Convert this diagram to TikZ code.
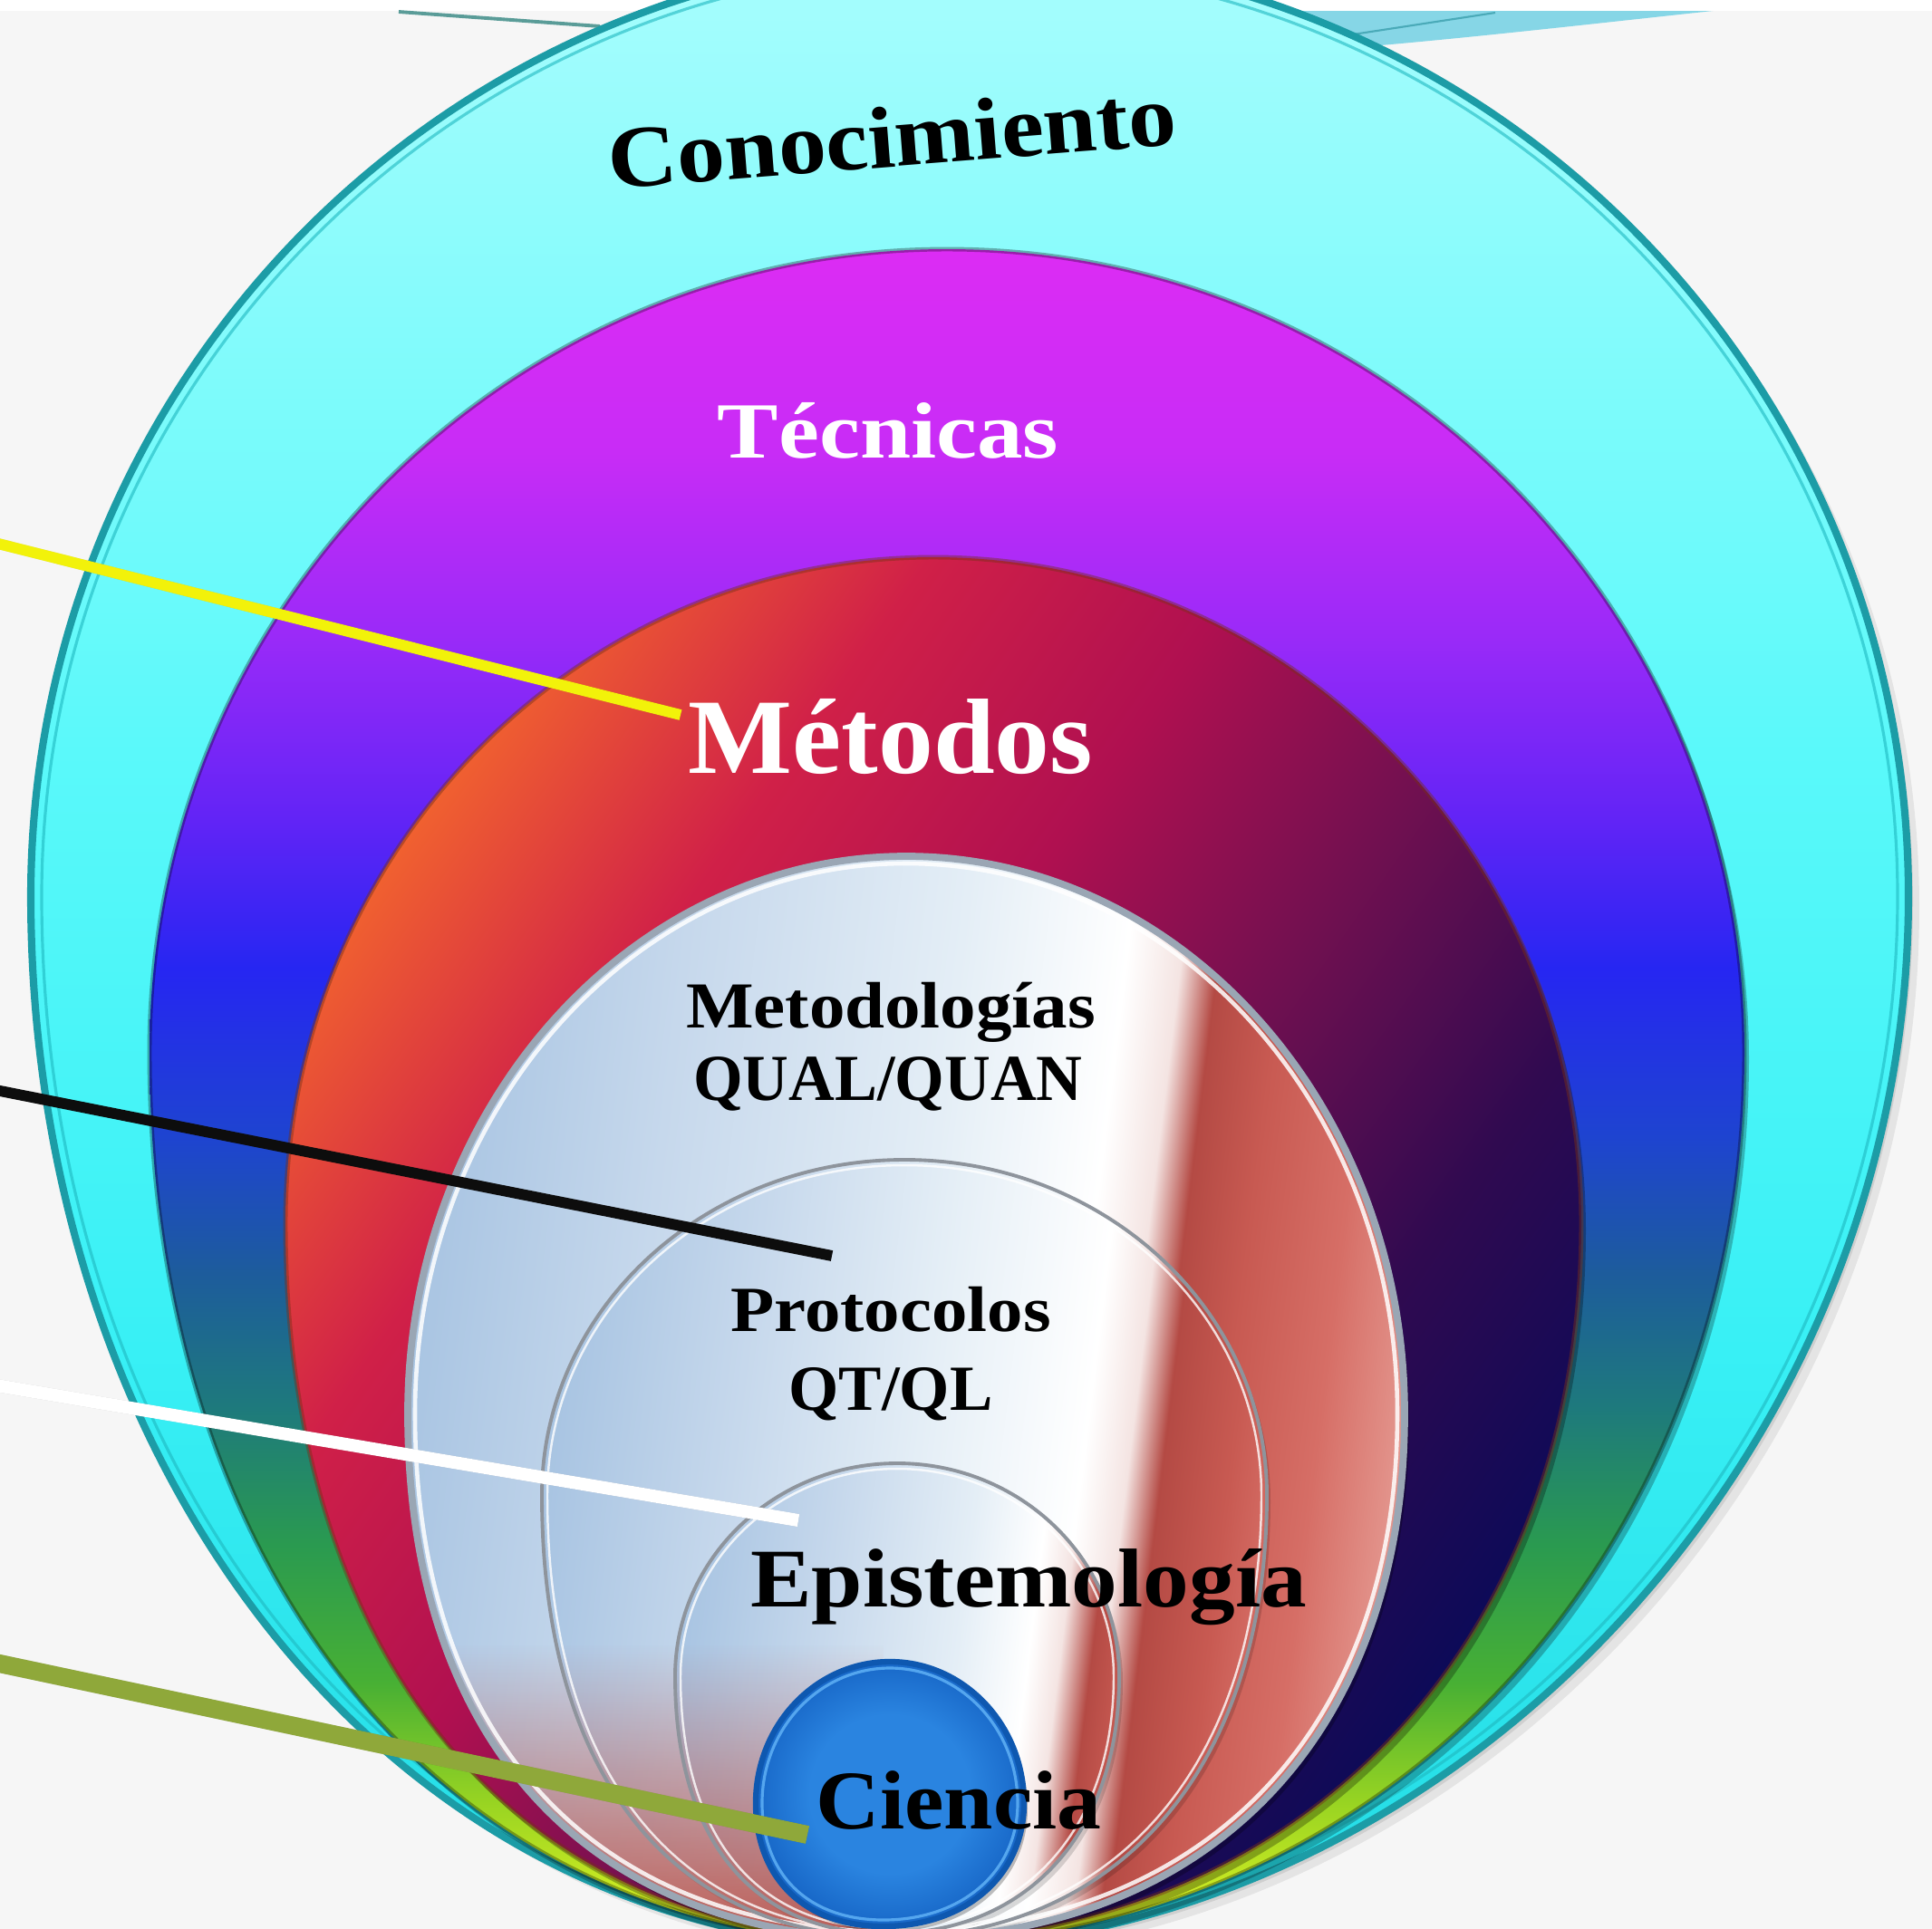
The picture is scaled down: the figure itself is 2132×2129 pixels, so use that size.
\documentclass[tikz,border=0pt]{standalone}
\usepackage{fontspec}
\setmainfont{Liberation Serif}
\usetikzlibrary{fadings}
\definecolor{bgc}{HTML}{F6F6F6}
\definecolor{cy1}{HTML}{A8FDFD}
\definecolor{cy2}{HTML}{5AF9FA}
\definecolor{cy3}{HTML}{38F0F5}
\definecolor{cy4}{HTML}{22DAE4}
\definecolor{cyrim}{HTML}{1C9CA6}
\definecolor{cyrim2}{HTML}{1FB8C0}
\definecolor{tc1}{HTML}{DC2CF4}
\definecolor{tc2}{HTML}{C82CF6}
\definecolor{tc3}{HTML}{9A2AF8}
\definecolor{tc4}{HTML}{6224F6}
\definecolor{tc5}{HTML}{2626F2}
\definecolor{tc6}{HTML}{1E44D0}
\definecolor{tc7}{HTML}{1D5C9C}
\definecolor{tc8}{HTML}{1E7A7C}
\definecolor{tc9}{HTML}{2A9A50}
\definecolor{tc10}{HTML}{48B034}
\definecolor{tc11}{HTML}{98D422}
\definecolor{tc12}{HTML}{D4EE22}
\definecolor{mt1}{HTML}{F06030}
\definecolor{mt2}{HTML}{D02048}
\definecolor{mt3}{HTML}{B01050}
\definecolor{mt4}{HTML}{701050}
\definecolor{mt5}{HTML}{300A50}
\definecolor{mt6}{HTML}{0C0A58}
\definecolor{mb1}{HTML}{A8C4E2}
\definecolor{mb2}{HTML}{C6D8EC}
\definecolor{mb3}{HTML}{E4EEF6}
\definecolor{mr0}{HTML}{F4E4E2}
\definecolor{mr1}{HTML}{B44A44}
\definecolor{mr2}{HTML}{C85A52}
\definecolor{mr3}{HTML}{D66E66}
\definecolor{mr4}{HTML}{E49890}
\definecolor{refl}{HTML}{B8483E}
\definecolor{cb1}{HTML}{2A84E0}
\definecolor{cb2}{HTML}{1868C8}
\definecolor{cbrim}{HTML}{0E58B0}
\definecolor{cbhi}{HTML}{6EC0FF}
\definecolor{silver}{HTML}{9AA6B4}
\definecolor{greyrim}{HTML}{8E949C}
\definecolor{topblue}{HTML}{86D6E6}
\definecolor{topline}{HTML}{4AAAB8}
\definecolor{tealline}{HTML}{5A9C98}
\definecolor{yel}{HTML}{F2F20A}
\definecolor{oliv}{HTML}{8FA83A}
\pgfdeclareverticalshading{cono}{100bp}{color(0bp)=(cy4); color(25bp)=(cy4); color(40bp)=(cy3); color(55bp)=(cy2); color(75bp)=(cy1); color(100bp)=(cy1)}
\pgfdeclareverticalshading{tecnicas}{100bp}{color(0bp)=(tc12); color(26bp)=(tc12); color(29.2bp)=(tc11); color(32.7bp)=(tc10); color(36.8bp)=(tc9); color(40.8bp)=(tc8); color(44.8bp)=(tc7); color(48.8bp)=(tc6); color(53.8bp)=(tc5); color(58.2bp)=(tc4); color(63.6bp)=(tc3); color(69bp)=(tc2); color(75bp)=(tc1); color(100bp)=(tc1)}
\pgfdeclarehorizontalshading{metodos}{100bp}{color(0bp)=(mt1); color(25bp)=(mt1); color(35bp)=(mt2); color(45bp)=(mt3); color(55bp)=(mt4); color(65bp)=(mt5); color(75bp)=(mt6); color(100bp)=(mt6)}
\pgfdeclarehorizontalshading{metodol}{100bp}{color(0bp)=(mb1); color(25bp)=(mb1); color(36.4bp)=(mb2); color(50bp)=(mb3); color(58.2bp)=(white); color(60.9bp)=(mr0); color(62.7bp)=(mr1); color(65.9bp)=(mr2); color(70.5bp)=(mr3); color(75bp)=(mr4); color(100bp)=(mr4)}
\pgfdeclarehorizontalshading{protoc}{100bp}{color(0bp)=(mb1); color(25bp)=(mb1); color(37.6bp)=(mb2); color(50.1bp)=(mb3); color(61.4bp)=(white); color(64.5bp)=(mr0); color(66.8bp)=(mr1); color(71.5bp)=(mr2); color(75bp)=(mr3); color(100bp)=(mr3)}
\pgfdeclarehorizontalshading{episte}{100bp}{color(0bp)=(mb1); color(25bp)=(mb1); color(40.8bp)=(mb2); color(56bp)=(mb3); color(64bp)=(white); color(67.5bp)=(mr0); color(71bp)=(mr1); color(75bp)=(mr2); color(100bp)=(mr2)}
\pgfdeclareradialshading{ciencia}{\pgfpoint{0bp}{0bp}}{color(0bp)=(cb1); color(15bp)=(cb1); color(25bp)=(cb2); color(50bp)=(cb2)}
\tikzfading[name=fadeup, top color=transparent!100, bottom color=transparent!0]
% egg-shaped outline: cx, cy (widest), rx, ry top, ry bottom, bottom fullness, bottom x
\newcommand\egg[7]{(#1-#3,#2) .. controls (#1-#3,#2-0.552*#4) and (#1-0.552*#3,#2-#4) .. (#1,#2-#4) .. controls (#1+0.552*#3,#2-#4) and (#1+#3,#2-0.552*#4) .. (#1+#3,#2) .. controls (#1+#3,#2+#6*#5) and (#7+#6*#3,#2+#5) .. (#7,#2+#5) .. controls (#7-#6*#3,#2+#5) and (#1-#3,#2+#6*#5) .. (#1-#3,#2) -- cycle}
\tikzset{
  lbl/.style={inner sep=0pt, anchor=base},
  dropshade/.style={fill=black, opacity=#1},
  leader/.style={line width=#1, line cap=butt},
}
\begin{document}
\begin{tikzpicture}[x=0.01cm,y=-0.01cm,line join=round]
\useasboundingbox (0,0) rectangle (2132,2129);
\clip (0,0) rectangle (2132,2129);
\fill[bgc] (0,12) rectangle (2132,2129);
\fill[white] (0,0) rectangle (2132,12);
% shapes peeking in at the top
\fill[topblue] (1380,12) -- (1890,12) .. controls (1760,26) and (1620,42) .. (1500,52) -- (1400,56) -- cycle;
\coordinate (trA) at (1480,40);
\coordinate (trB) at (1650,14);
\draw[topline, line width=0.6pt] (trA) -- (trB);
\coordinate (tlA) at (440,13);
\coordinate (tlB) at (662,29);
\draw[tealline, line width=1.1pt] (tlA) -- (tlB);
% Conocimiento
\fill[dropshade=.07, shift={(12,12)}] \egg{1070}{989}{1036}{1040}{1161}{0.55}{1005};
\fill[dropshade=.09, shift={(5,6)}] \egg{1070}{989}{1036}{1040}{1161}{0.55}{1005};
\shade[shading=cono] \egg{1070}{989}{1036}{1040}{1161}{0.55}{1005};
\draw[cyrim, line width=2.3pt] \egg{1070}{989}{1036}{1040}{1161}{0.55}{1005};
\draw[cyrim2, line width=0.9pt, opacity=.6] \egg{1070}{989}{1024}{1028}{1149}{0.55}{1005};
% Tecnicas
\fill[dropshade=.25, shift={(5,8)}] \egg{1045}{1161}{880}{886}{985}{0.58}{998};
\shade[shading=tecnicas] \egg{1045}{1161}{880}{886}{985}{0.58}{998};
\draw[black, opacity=.3, line width=1.4pt] \egg{1045}{1161}{880}{886}{985}{0.58}{998};
% Metodos
\fill[dropshade=.28, shift={(5,8)}] \egg{1030}{1350}{715}{735}{792}{0.6}{993};
\shade[shading=metodos, shading angle=-35] \egg{1030}{1350}{715}{735}{792}{0.6}{993};
\draw[mt1!50!black, opacity=.45, line width=1.4pt] \egg{1030}{1350}{715}{735}{792}{0.6}{993};
% Metodologias
\fill[dropshade=.25, shift={(5,8)}] \egg{1000}{1560}{550}{615}{580}{0.62}{988};
\shade[shading=metodol, shading angle=-7] \egg{1000}{1560}{550}{615}{580}{0.62}{988};
% Protocolos
\fill[dropshade=.15, shift={(4,6)}] \egg{998}{1650}{400}{370}{488}{0.62}{984};
\shade[shading=protoc, shading angle=-7] \egg{998}{1650}{400}{370}{488}{0.62}{984};
% Epistemologia
\fill[dropshade=.15, shift={(4,6)}] \egg{990}{1850}{245}{235}{284}{0.62}{979};
\shade[shading=episte, shading angle=-7] \egg{990}{1850}{245}{235}{284}{0.62}{979};
% reddish reflection low on the left
\begin{scope}
\clip \egg{1000}{1560}{550}{615}{580}{0.62}{988};
\fill[refl, fill opacity=.9, path fading=fadeup] (420,1815) rectangle (975,2150);
\end{scope}
% rims of the pale rings
\draw[silver, line width=2.2pt] \egg{1000}{1560}{550}{615}{580}{0.62}{988};
\draw[white, opacity=.85, line width=1.3pt] \egg{1000}{1560}{542}{607}{572}{0.62}{988};
\draw[greyrim, line width=1.1pt] \egg{998}{1650}{400}{370}{488}{0.62}{984};
\draw[white, opacity=.8, line width=0.7pt] \egg{998}{1650}{394}{364}{482}{0.62}{984};
\draw[greyrim, line width=1.1pt] \egg{990}{1850}{245}{235}{284}{0.62}{979};
\draw[white, opacity=.8, line width=0.7pt] \egg{990}{1850}{239}{229}{278}{0.62}{979};
% Ciencia
\fill[dropshade=.25, shift={(4,6)}] \egg{982}{1990}{148}{156}{136}{0.6}{975};
\shade[shading=ciencia] \egg{982}{1990}{148}{156}{136}{0.6}{975};
\draw[cbrim, line width=1.8pt] \egg{982}{1990}{148}{156}{136}{0.6}{975};
\draw[cbhi, opacity=.7, line width=0.9pt] \egg{982}{1990}{141}{149}{129}{0.6}{975};
% labels
\node[lbl, rotate=4.5, xscale=1.09, font={\fontsize{27.6pt}{30pt}\selectfont\bfseries}] (conoc) at (987,184) {Conocimiento};
\node[lbl, white, xscale=1.15, font={\fontsize{25pt}{28pt}\selectfont\bfseries}] (tecn) at (980,505) {Técnicas};
\node[lbl, white, xscale=1.03, font={\fontsize{33.6pt}{36pt}\selectfont\bfseries}] (meto) at (983,853) {Métodos};
\node[lbl, xscale=1.09, font={\fontsize{20.6pt}{23pt}\selectfont\bfseries}] (metodol) at (983,1134) {Metodologías};
\node[lbl, xscale=0.97, font={\fontsize{20.6pt}{23pt}\selectfont\bfseries}] (qual) at (980,1214) {QUAL/QUAN};
\node[lbl, xscale=1.11, font={\fontsize{20.2pt}{23pt}\selectfont\bfseries}] (proto) at (983,1469) {Protocolos};
\node[lbl, xscale=1.0, font={\fontsize{20.2pt}{23pt}\selectfont\bfseries}] (qtql) at (983,1556) {QT/QL};
\node[lbl, xscale=1.1, font={\fontsize{26.2pt}{29pt}\selectfont\bfseries}] (epis) at (1135,1773) {Epistemología};
\node[lbl, xscale=1.06, font={\fontsize{26.2pt}{29pt}\selectfont\bfseries}] (cien) at (1058,2018) {Ciencia};
% leader lines
\coordinate (yA) at (-10,598);
\coordinate (yB) at (751,789);
\coordinate (kA) at (-10,1202);
\coordinate (kB) at (918,1386);
\coordinate (wA) at (-10,1528);
\coordinate (wB) at (881,1678);
\coordinate (gA) at (-10,1834);
\coordinate (gB) at (891,2025);
\draw[leader=3.4pt, black, opacity=.12, shift={(0,6)}] (yA) -- (yB);
\draw[leader=3.4pt, yel] (yA) -- (yB);
\draw[leader=3.4pt, black!95] (kA) -- (kB);
\draw[leader=4pt, black, opacity=.15, shift={(0,7)}] (wA) -- (wB);
\draw[leader=4pt, white] (wA) -- (wB);
\draw[leader=5.7pt, black, opacity=.15, shift={(0,10)}] (gA) -- (gB);
\draw[leader=5.7pt, oliv] (gA) -- (gB);
\end{tikzpicture}
\end{document}
